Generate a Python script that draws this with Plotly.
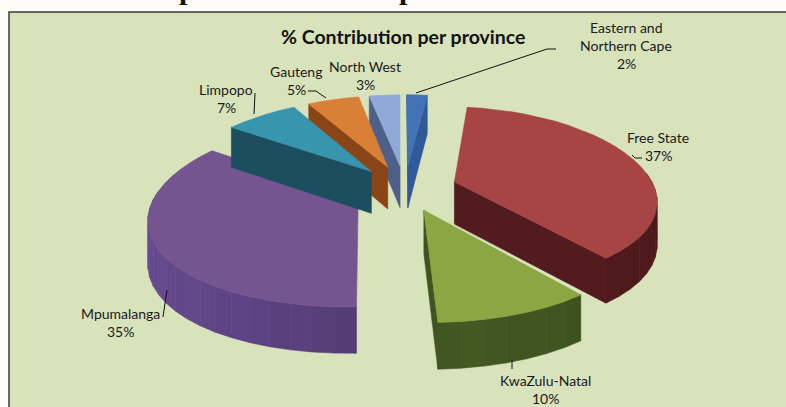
import math
import plotly.graph_objects as go

provinces = ["Free State", "KwaZulu-Natal", "Mpumalanga", "Limpopo", "Gauteng", "North West", "Eastern and<br>Northern Cape"]
shares = [37, 10, 35, 7, 5, 3, 2]
top_colors = ["#A64543", "#8BA642", "#75558F", "#3795AE", "#D98036", "#8FA9D9", "#4273B5"]
wall_colors = ["#521B1E", "#3F5420", "#503A70", "#1D4E60", "#8A4517", "#4C6088", "#2F5A9A"]
draw_order = [6, 5, 4, 2, 3, 0, 1]

title = "% Contribution per province"
cropped_heading_glyphs = [(187, "p"), (407, "p")]
panel_color = "#D8E3BC"
border_color = "#3A3D38"

# projection settings for the tilted, exploded pie
CX, CY = 405, 188
RX, RY = 200, 88
KX, KY = 0.185, 0.15
PULL = 0.26
ROT = 7.0
DEPTH = 42.5

# label centre (x, first-line y) per slice, and leader polylines
label_pos = [(658, 137), (545, 380), (120, 313), (226, 89), (296, 71), (365, 66), (626, 27)]
leaders = [
    [(642, 158), (635, 158), (632, 155)],
    [(512, 360), (512, 369)],
    [(167, 290), (163, 317)],
    [(255, 93), (254, 114)],
    [(308, 91), (316, 91), (326, 98)],
    [],
    [(556, 49), (547, 49), (416, 93)],
]


def project(X, Y, drop=0.0):
    sx = CX + RX * X / (1 + KX * Y)
    sy = CY - RY * Y / (1 + KY * Y) + drop * DEPTH * (1 - 0.08 * Y)
    return sx, sy


def mix(hex_color, f):
    r, g, b = (int(hex_color[i:i + 2], 16) for i in (1, 3, 5))
    return "rgb(%d,%d,%d)" % tuple(max(0, min(255, round(c * f))) for c in (r, g, b))


total = sum(shares)
angles = []
acc = ROT
for v in shares:
    span = v / total * 360
    angles.append((acc, acc + span))
    acc += span

fig = go.Figure()


def poly(points, color):
    xs = [p[0] for p in points] + [points[0][0]]
    ys = [p[1] for p in points] + [points[0][1]]
    fig.add_trace(go.Scatter(x=xs, y=ys, mode="lines", fill="toself", fillcolor=color,
                             line=dict(width=0.6, color=color), hoverinfo="skip", showlegend=False))


for i in draw_order:
    a0, a1 = angles[i]
    mid = math.radians((a0 + a1) / 2)
    ox, oy = PULL * math.sin(mid), PULL * math.cos(mid)
    n = max(4, int((a1 - a0) / 5))
    ring = []
    for k in range(n + 1):
        t = math.radians(a0 + (a1 - a0) * k / n)
        ring.append((ox + math.sin(t), oy + math.cos(t)))
    apex = (ox, oy)
    # outer wall strips: only the part that faces the viewer
    for k in range(n):
        t = math.radians(a0 + (a1 - a0) * (k + 0.5) / n)
        if math.cos(t) >= 0.08:
            continue
        p, q = ring[k], ring[k + 1]
        f = 1.06 - 0.12 * math.sin(t) + 0.015 * ((k % 3) - 1)
        if math.sin(t) < 0:
            f += 0.12 * (-math.sin(t))
        poly([project(*p), project(*q), project(*q, 1), project(*p, 1)], mix(wall_colors[i], f))
    # radial walls: only those that face the viewer
    if math.cos(math.radians(a0 - 90)) < 0:
        poly([project(*apex), project(*ring[0]), project(*ring[0], 1), project(*apex, 1)], mix(wall_colors[i], 1.0))
    if math.cos(math.radians(a1 + 90)) < 0:
        poly([project(*apex), project(*ring[-1]), project(*ring[-1], 1), project(*apex, 1)], mix(wall_colors[i], 1.0))
    # top face
    poly([project(*apex)] + [project(*p) for p in ring], top_colors[i])

# leader lines
for pts in leaders:
    if pts:
        fig.add_trace(go.Scatter(x=[p[0] for p in pts], y=[p[1] for p in pts], mode="lines",
                                 line=dict(width=1, color="#111111"), hoverinfo="skip", showlegend=False))

annotations = [dict(x=403, y=36.5, text="<b>%s</b>" % title, showarrow=False,
                    font=dict(family="Lato", size=19.5, color="#111111"), xanchor="center", yanchor="middle")]
for i, name in enumerate(provinces):
    x, y = label_pos[i]
    lines = name.split("<br>") + ["%d%%" % shares[i]]
    for j, line in enumerate(lines):
        annotations.append(dict(x=x, y=y + j * 18, text=line, showarrow=False,
                                font=dict(family="Lato", size=14, color="#1A1A1A"),
                                xanchor="center", yanchor="middle"))
for gx, glyph in cropped_heading_glyphs:
    annotations.append(dict(x=gx, y=1.028, yref="paper", text="<b>%s</b>" % glyph, showarrow=False,
                            font=dict(family="Liberation Serif", size=30, color="#111111"),
                            xanchor="center", yanchor="middle"))

fig.update_layout(
    width=786, height=407,
    margin=dict(l=0, r=0, t=0, b=0),
    paper_bgcolor="#FDFCF9",
    plot_bgcolor="#FDFCF9",
    showlegend=False,
    xaxis=dict(range=[0, 786], visible=False, fixedrange=True),
    yaxis=dict(range=[407, 0], visible=False, fixedrange=True),
    annotations=annotations,
    shapes=[dict(type="rect", layer="below", x0=9, x1=790, y0=12, y1=412, fillcolor=panel_color,
                 line=dict(color=border_color, width=1.5))],
)

fig.write_html("out.html", config={"displayModeBar": False},
               post_script="document.body.style.margin='0';document.body.style.overflow='hidden';")
